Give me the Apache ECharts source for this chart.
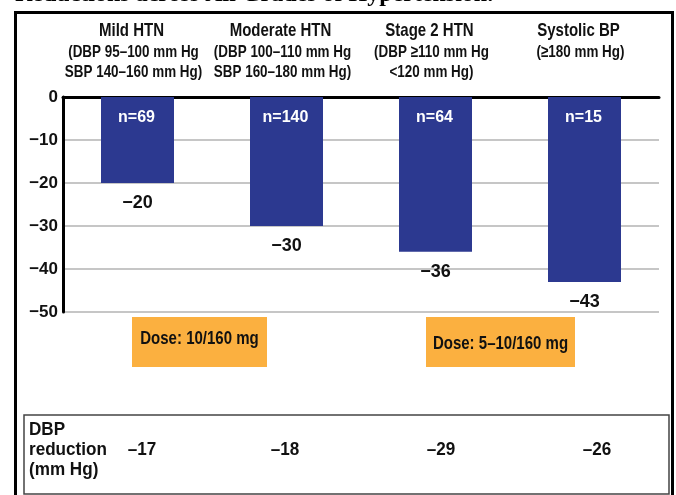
<!DOCTYPE html>
<html>
<head>
<meta charset="utf-8">
<script src="https://cdn.jsdelivr.net/npm/echarts@6/dist/echarts.min.js"></script>
<style>
  html, body { margin: 0; padding: 0; background: #ffffff; }
  #chart { width: 676px; height: 495px; }
</style>
</head>
<body>
<div id="chart"></div>
<script>
// Hypertension grades shown along the top
const groupNames = ['Mild HTN', 'Moderate HTN', 'Stage 2 HTN', 'Systolic BP'];
const groupRanges = [
  ['(DBP 95–100 mm Hg', 'SBP 140–160 mm Hg)'],
  ['(DBP 100–110 mm Hg', 'SBP 160–180 mm Hg)'],
  ['(DBP ≥110 mm Hg', '<120 mm Hg)'],
  ['(≥180 mm Hg)']
];
// Mean SBP reduction (mm Hg) per grade
const sbpReduction = [-20, -30, -36, -43];
// Patients per grade
const sampleSizes = [69, 140, 64, 15];
// Mean DBP reduction (mm Hg) per grade
const dbpReduction = [-17, -18, -29, -26];
const dbpRowLabel = ['DBP', 'reduction', '(mm Hg)'];
const doseLabels = ['Dose: 10/160 mg', 'Dose: 5–10/160 mg'];
const titleText = 'Reductions across All Grades of Hypertension.';
const yMin = -50, yMax = 0, yStep = 10;

const NARROW = "'Liberation Sans Narrow', 'Liberation Sans', Arial, sans-serif";
const SANS = "'Liberation Sans', Arial, sans-serif";
const BAR_BLUE = '#2c3990';
const DOSE_ORANGE = '#fbb040';
const minus = v => (v < 0 ? '\u2212' : '') + Math.abs(v);

const chart = echarts.init(document.getElementById('chart'), null, { renderer: 'canvas' });

chart.setOption({
  backgroundColor: '#ffffff',
  animation: false,
  grid: { left: 63, right: 17, top: 97, bottom: 183 },
  xAxis: {
    type: 'category',
    data: groupNames,
    position: 'top',
    axisLine: { show: true, lineStyle: { color: '#000', width: 3 } },
    axisTick: { show: false },
    axisLabel: { show: false },
    splitLine: { show: false }
  },
  yAxis: {
    type: 'value',
    min: yMin, max: yMax, interval: yStep,
    axisLine: { show: true, lineStyle: { color: '#000', width: 3 } },
    axisTick: { show: false },
    axisLabel: {
      margin: 5,
      color: '#111', fontWeight: 'bold', fontSize: 17, fontFamily: NARROW,
      formatter: v => minus(v)
    },
    splitLine: { show: true, lineStyle: { color: '#b3b3b3', width: 1.5 } }
  },
  series: [{
    type: 'bar',
    data: sbpReduction,
    barWidth: 73,
    itemStyle: { color: BAR_BLUE },
    label: {
      show: true, position: 'bottom', distance: 11,
      color: '#111', fontWeight: 'bold', fontSize: 18, fontFamily: NARROW,
      formatter: p => minus(p.value)
    }
  }]
});

// Annotations placed relative to the category bands
const graphics = [];
const centerX = i => chart.convertToPixel({ xAxisIndex: 0 }, groupNames[i]);
const zeroY = chart.convertToPixel({ yAxisIndex: 0 }, 0);

function txt(x, y, text, size, opts) {
  opts = opts || {};
  return {
    type: 'text', x: x, y: y, scaleX: opts.scaleX || 1, z: 10,
    style: {
      text: text, fill: opts.fill || '#111',
      font: 'bold ' + size + 'px ' + (opts.family || SANS),
      align: opts.align || 'center', verticalAlign: 'middle'
    }
  };
}

// outer frame and clipped heading
graphics.push({ type: 'rect', z: 1, shape: { x: 15.5, y: 12.5, width: 657, height: 520 },
  style: { fill: 'none', stroke: '#000', lineWidth: 3 } });
graphics.push({ type: 'text', x: 15, y: -5, z: 10,
  style: { text: titleText, fill: '#000', font: 'bold 24px "Liberation Serif", "Times New Roman", serif',
    align: 'left', verticalAlign: 'middle' } });

// group headers
groupNames.forEach((name, i) => {
  const cx = centerX(i) - 6;
  graphics.push(txt(cx, 31, name, 19, { scaleX: 0.79 }));
  groupRanges[i].forEach((line, j) => {
    graphics.push(txt(cx + 2, 52 + j * 20, line, 17, { scaleX: 0.79 }));
  });
  // sample size inside the bar top
  graphics.push(txt(centerX(i) - 1, zeroY + 21, 'n=' + sampleSizes[i], 16, { fill: '#ffffff', family: NARROW }));
});

// dose boxes
const doseBoxes = [
  { x: 132, y: 317, w: 135, h: 50, ty: 339 },
  { x: 426, y: 317, w: 149, h: 50, ty: 344 }
];
doseBoxes.forEach((b, i) => {
  graphics.push({ type: 'rect', z: 2, shape: { x: b.x, y: b.y, width: b.w, height: b.h },
    style: { fill: DOSE_ORANGE } });
  graphics.push(txt(b.x + b.w / 2, b.ty, doseLabels[i], 19, { scaleX: 0.79 }));
});

// DBP reduction row
graphics.push({ type: 'rect', z: 2, shape: { x: 24, y: 415, width: 645, height: 79 },
  style: { fill: 'none', stroke: '#444', lineWidth: 1.5 } });
dbpRowLabel.forEach((line, j) => {
  graphics.push(txt(29, 430 + j * 20, line, 18, { align: 'left', scaleX: 0.95 }));
});
const tableValueX = [142, 285, 441, 597];
dbpReduction.forEach((v, i) => {
  graphics.push(txt(tableValueX[i], 450, '–' + Math.abs(v), 18, { scaleX: 0.95 }));
});

chart.setOption({ graphic: graphics });
</script>
</body>
</html>
